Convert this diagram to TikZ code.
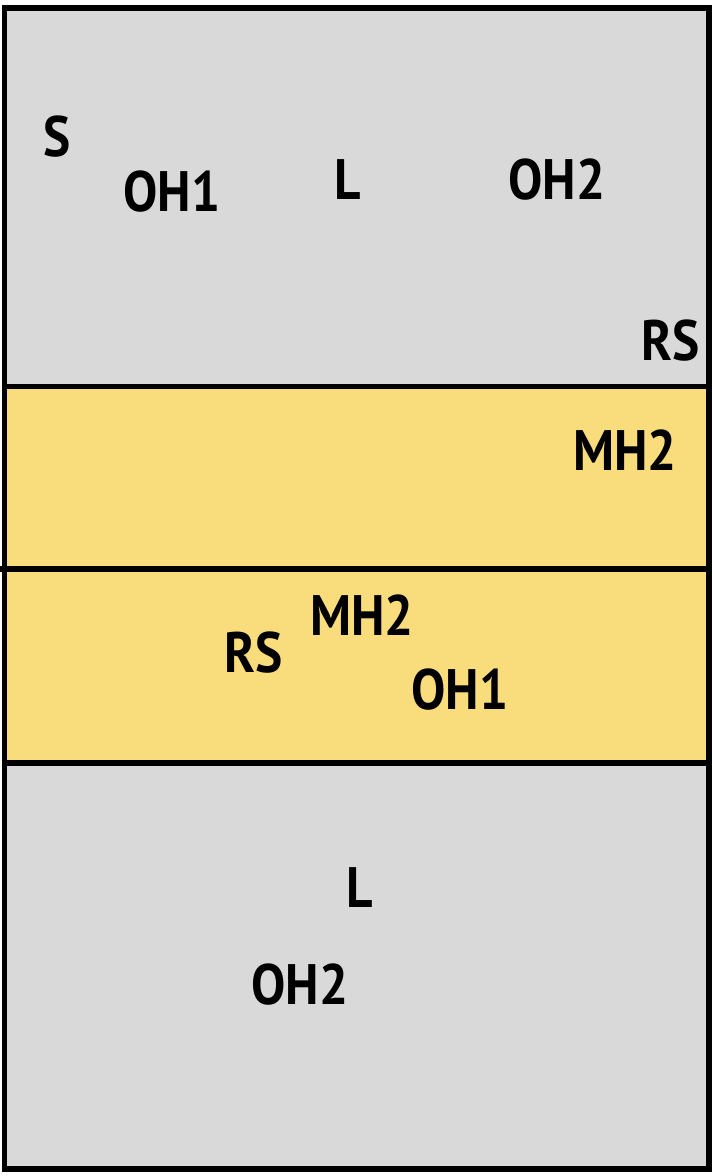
\documentclass[tikz,border=0pt]{standalone}
\usepackage{fontspec}
\setsansfont{PT Sans}[FakeStretch=0.9]
\usepackage{xcolor}
\definecolor{CourtGray}{HTML}{D9D9D9}
\definecolor{ZoneYellow}{HTML}{F9DC7B}
\tikzset{
  courtline/.style={draw=black, line width=5.5pt},
  player/.style={inner sep=0pt, font=\sffamily\bfseries\fontsize{57}{60}\selectfont}
}
\begin{document}
\begin{tikzpicture}[x=1pt,y=-1pt]
\useasboundingbox (0,0) rectangle (712,1176);
\fill[CourtGray] (4.5,8) rectangle (709,1169);
\fill[ZoneYellow] (4.5,386.5) rectangle (709,763);
\draw[courtline] (0,569) -- (709,569);
\draw[courtline] (4.5,386.5) -- (709,386.5);
\draw[courtline] (4.5,763) -- (709,763);
\draw[courtline] (4.5,8) rectangle (709,1169);
\node[player] (s) at (57,137) {S};
\node[player] (oh1a) at (172,192) {OH1};
\node[player] (la) at (348,180) {L};
\node[player] (oh2a) at (557,180) {OH2};
\node[player] (rsa) at (671,341) {RS};
\node[player] (mh2a) at (625,450) {MH2};
\node[player] (rsb) at (254,653) {RS};
\node[player] (mh2b) at (362,615) {MH2};
\node[player] (oh1b) at (460,690) {OH1};
\node[player] (lb) at (360,888) {L};
\node[player] (oh2b) at (300,985) {OH2};
\end{tikzpicture}
\end{document}
